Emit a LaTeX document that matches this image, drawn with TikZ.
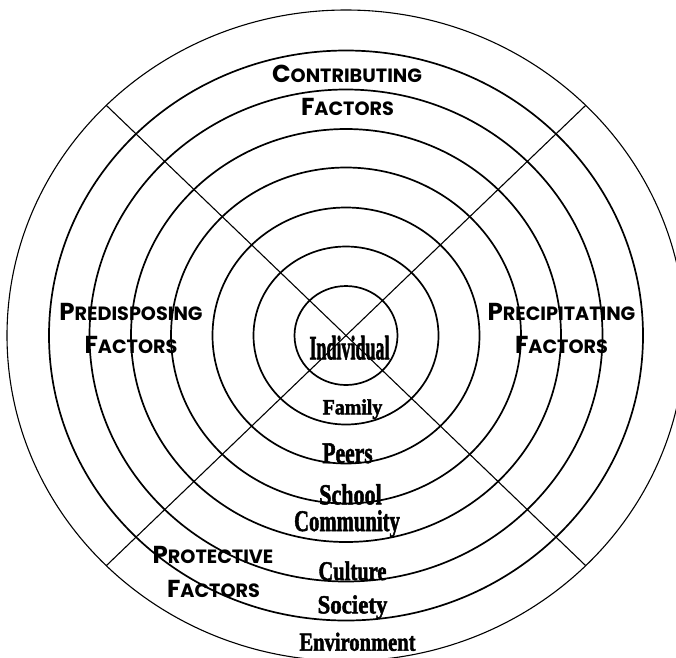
\documentclass[tikz,border=0pt]{standalone}
\usepackage{fontspec}
\setmainfont{Liberation Serif}
\newfontfamily\facfont{Poppins}
\newfontfamily\ringfont{Liberation Serif}[BoldFeatures={FakeBold=2}]
\newcommand{\fsc}[2]{{\fontsize{24.5}{24.5}\selectfont #1}{\fontsize{19.2}{19.2}\selectfont #2}}
\newcommand{\ringlab}[3]{\fontsize{#1}{#1}\selectfont\scalebox{#2}[1]{#3}}
\begin{document}
\begin{tikzpicture}[x=1pt,y=-1pt,
  ring/.style={line width=1.7pt},
  outerring/.style={line width=1.1pt},
  spoke/.style={line width=1.1pt},
  factor/.style={font=\facfont\bfseries, anchor=base, inner sep=0pt},
  ringlabel/.style={font=\ringfont\bfseries, anchor=base, inner sep=0pt}]
\useasboundingbox (0,0) rectangle (676,657);
\clip (0,0) rectangle (676,657);
\coordinate (c) at (346,335.5);
\foreach \rx/\ry in {51.5/49.5, 92.5/89, 133.5/128, 175/168, 215/206.5, 256.5/246, 297/285}
  \draw[ring] (c) ellipse [x radius=\rx pt, y radius=\ry pt];
\draw[outerring] (c) ellipse [x radius=339pt, y radius=325.5pt];
\foreach \a/\n in {45/ur,135/ul,225/ll,315/lr}
  \coordinate (\n) at ([shift={(\a:339pt and 325.5pt)}]c);
\draw[spoke] (ul) -- (lr);
\draw[spoke] (ur) -- (ll);
\node[factor] (contrib1) at (347,82) {\fsc{C}{ONTRIBUTING}};
\node[factor] (contrib2) at (347.5,115) {\fsc{F}{ACTORS}};
\node[factor] (predis1) at (131,320) {\fsc{P}{REDISPOSING}};
\node[factor] (predis2) at (131,353) {\fsc{F}{ACTORS}};
\node[factor] (precip1) at (561.5,320) {\fsc{P}{RECIPITATING}};
\node[factor] (precip2) at (561.5,353) {\fsc{F}{ACTORS}};
\node[factor] (protect1) at (213,563) {\fsc{P}{ROTECTIVE}};
\node[factor] (protect2) at (213.5,597) {\fsc{F}{ACTORS}};
\node[ringlabel] (individual) at (349.5,359.3) {\ringlab{34}{0.53}{Individual}};
\node[ringlabel] (family) at (352.5,414.3) {\ringlab{21.6}{0.92}{Family}};
\node[ringlabel] (peers) at (347.5,463) {\ringlab{30}{0.72}{Peers}};
\node[ringlabel] (school) at (350.5,504.3) {\ringlab{29}{0.76}{School}};
\node[ringlabel] (community) at (347,531) {\ringlab{30}{0.69}{Community}};
\node[ringlabel] (culture) at (352.5,580) {\ringlab{27}{0.76}{Culture}};
\node[ringlabel] (society) at (352.5,613.3) {\ringlab{26}{0.88}{Society}};
\node[ringlabel] (environment) at (357.5,650.7) {\ringlab{26}{0.79}{Environment}};
\end{tikzpicture}
\end{document}
